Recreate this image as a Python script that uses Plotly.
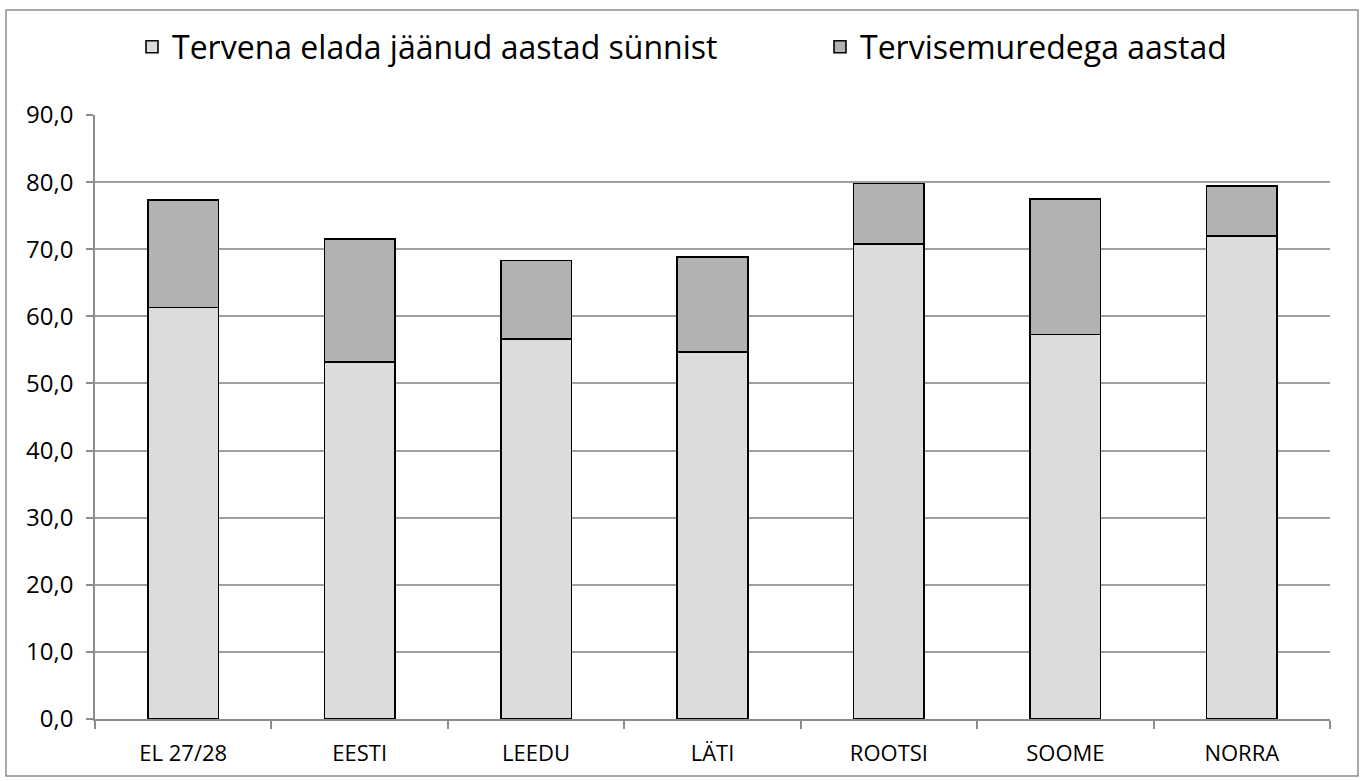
import plotly.graph_objects as go

categories = ["EL 27/28", "EESTI", "LEEDU", "LÄTI", "ROOTSI", "SOOME", "NORRA"]
healthy_years = [61.3, 53.2, 56.6, 54.7, 70.8, 57.3, 72.0]
ill_years = [16.0, 18.3, 11.7, 14.1, 9.0, 20.2, 7.4]
y_ticks = [0, 10, 20, 30, 40, 50, 60, 70, 80, 90]

W, H = 1364, 781
L, R, T, B = 95, 34, 115, 62
pw, ph = W - L - R, H - T - B

fig = go.Figure()
fig.add_trace(go.Bar(
    x=categories, y=healthy_years, name="Tervena elada jäänud aastad sünnist",
    marker=dict(color="#DCDCDC", line=dict(color="#000000", width=1.6)),
    legend="legend", showlegend=True,
))
fig.add_trace(go.Bar(
    x=categories, y=ill_years, name="Tervisemuredega aastad",
    marker=dict(color="#B2B2B2", line=dict(color="#000000", width=1.6)),
    legend="legend2", showlegend=True,
))

def px_x(x):
    return (x - L) / pw

def px_y(y):
    return (H - B - y) / ph

legend_common = dict(
    orientation="h",
    xanchor="left",
    y=px_y(47), yanchor="middle",
    font=dict(size=32, family="Open Sans"),
    bgcolor="rgba(0,0,0,0)",
    visible=True,
)

fig.update_layout(
    width=W, height=H,
    showlegend=True,
    barmode="stack",
    bargap=0.6,
    separators=", ",
    paper_bgcolor="white",
    plot_bgcolor="white",
    margin=dict(l=L, r=R, t=T, b=B, pad=0),
    font=dict(family="Open Sans", color="#000000"),
    legend=dict(x=px_x(132), **legend_common),
    legend2=dict(x=px_x(820), **legend_common),
    xaxis=dict(
        showgrid=False,
        showline=True, linecolor="#8C8C8C", linewidth=1.5,
        ticks="outside", tickson="boundaries", ticklen=8,
        tickcolor="#8C8C8C", tickwidth=1.5,
        tickfont=dict(size=22),
        ticklabelstandoff=14,
        fixedrange=True,
    ),
    yaxis=dict(
        range=[0, 90],
        tickvals=y_ticks,
        tickformat=".1f",
        showgrid=True, gridcolor="#A0A0A0", gridwidth=1.5,
        showline=True, linecolor="#8C8C8C", linewidth=1.5,
        ticks="outside", ticklen=7, tickcolor="#8C8C8C", tickwidth=1.5,
        tickfont=dict(size=24),
        ticklabelstandoff=8,
        zeroline=False,
        fixedrange=True,
    ),
    shapes=[dict(
        type="rect", xref="paper", yref="paper", layer="below",
        x0=px_x(6), x1=px_x(1358), y0=px_y(776), y1=px_y(10),
        line=dict(color="#8C8C8C", width=1.5), fillcolor="rgba(0,0,0,0)",
    )],
)

fig.write_html(
    "out.html",
    config={"displayModeBar": False},
    post_script="document.body.style.margin='0';document.body.style.overflow='hidden';",
)
